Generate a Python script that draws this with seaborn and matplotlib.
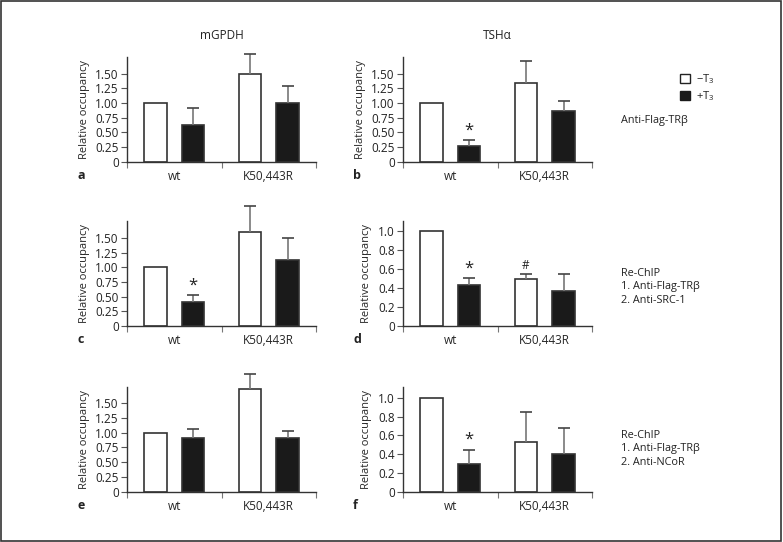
import numpy as np
import pandas as pd
import seaborn as sb
import matplotlib.pyplot as plt
from matplotlib.patches import Patch, Rectangle

# data: bar order is wt(-T3), wt(+T3), K50,443R(-T3), K50,443R(+T3)
groups = ['wt', 'K50,443R']
treat = ['-T3', '+T3']

a_mean = [1.00, 0.63, 1.50, 1.00]
a_sem = [0, 0.29, 0.34, 0.29]
b_mean = [1.00, 0.27, 1.35, 0.86]
b_sem = [0, 0.10, 0.36, 0.18]
c_mean = [1.00, 0.40, 1.61, 1.13]
c_sem = [0, 0.12, 0.44, 0.37]
d_mean = [1.00, 0.43, 0.49, 0.365]
d_sem = [0, 0.075, 0.06, 0.185]
e_mean = [0.99, 0.905, 1.74, 0.905]
e_sem = [0, 0.165, 0.26, 0.12]
f_mean = [1.00, 0.30, 0.525, 0.40]
f_sem = [0, 0.15, 0.325, 0.275]

b_marks = ['', '*', '', '']
c_marks = ['', '*', '', '']
d_marks = ['', '*', '#', '']
f_marks = ['', '*', '', '']
no_marks = ['', '', '', '']

ticks_15 = [0, 0.25, 0.5, 0.75, 1.0, 1.25, 1.5]
labels_15 = ['0', '0.25', '0.50', '0.75', '1.00', '1.25', '1.50']
ticks_10 = [0, 0.2, 0.4, 0.6, 0.8, 1.0]
labels_10 = ['0', '0.2', '0.4', '0.6', '0.8', '1.0']

sb.set_style('white')
plt.rcParams['font.family'] = ['Open Sans', 'DejaVu Sans']
plt.rcParams['mathtext.default'] = 'regular'
plt.rcParams['font.size'] = 8
plt.rcParams['text.color'] = '#222222'

fig = plt.figure(figsize=(7.83, 5.42), dpi=100)

W, H = 783, 542
cols = [127, 403]
rows = [(57.3, 161.7), (220.7, 325.7), (386.7, 491.7)]
aw = 189

panels = [
    (a_mean, a_sem, no_marks, 0, 0, 'a', 1.78, ticks_15, labels_15),
    (b_mean, b_sem, b_marks, 0, 1, 'b', 1.78, ticks_15, labels_15),
    (c_mean, c_sem, c_marks, 1, 0, 'c', 1.80, ticks_15, labels_15),
    (d_mean, d_sem, d_marks, 1, 1, 'd', 1.11, ticks_10, labels_10),
    (e_mean, e_sem, no_marks, 2, 0, 'e', 1.78, ticks_15, labels_15),
    (f_mean, f_sem, f_marks, 2, 1, 'f', 1.12, ticks_10, labels_10),
]

edge = '#333333'
for mean, sem, marks, r, c, letter, ytop, yt, yl in panels:
    top, bot = rows[r]
    ax = fig.add_axes([cols[c] / W, 1 - bot / H, aw / W, (bot - top) / H])
    df = pd.DataFrame({'group': [groups[0], groups[0], groups[1], groups[1]],
                       'treat': treat * 2,
                       'value': mean})
    sb.barplot(data=df, x='group', y='value', hue='treat', order=groups,
               hue_order=treat, palette=['white', '#1a1a1a'], width=0.8,
               gap=0.4, edgecolor=edge, linewidth=1.2, legend=False, ax=ax,
               errorbar=None)
    bars = sorted(ax.patches, key=lambda p: p.get_x())
    for p, m, s, mk in zip(bars, mean, sem, marks):
        xc = p.get_x() + p.get_width() / 2
        if s > 0:
            ax.vlines(xc, m, m + s, color='#777777', lw=1.2, clip_on=False, zorder=1)
            ax.hlines(m + s, xc - 0.065, xc + 0.065, color='#444444', lw=1.2,
                      clip_on=False, zorder=1)
        if mk:
            ax.annotate(mk, (xc, m + s), xytext=(0, 1), textcoords='offset points',
                        ha='center', va='bottom',
                        fontsize=12 if mk == '*' else 8.5)
    ax.set_xlim(-0.5, 1.5)
    ax.set_ylim(0, ytop)
    for sp in ['top', 'right']:
        ax.spines[sp].set_visible(False)
    for sp in ['left', 'bottom']:
        ax.spines[sp].set_color(edge)
        ax.spines[sp].set_linewidth(1.0)
    ax.set_yticks(yt)
    ax.set_yticklabels(yl, fontsize=8.5)
    ax.set_xticks([-0.5, 0.5, 1.5])
    ax.set_xticklabels(['', '', ''])
    ax.set_xticks([0, 1], minor=True)
    ax.set_xticklabels(groups, minor=True, fontsize=8.5)
    ax.tick_params(axis='x', which='major', direction='out', length=4,
                   width=0.8, color='#777777', bottom=True)
    ax.tick_params(axis='x', which='minor', length=0, pad=6)
    ax.tick_params(axis='y', direction='out', length=4, width=0.8,
                   color='#555555', left=True, pad=2, labelcolor='#222222')
    ax.set_xlabel('')
    ax.set_ylabel('Relative occupancy', fontsize=8, labelpad=4)
    fig.text((cols[c] - 50) / W, 1 - (bot + 14) / H, letter, fontsize=9,
             fontweight='bold', ha='left', va='center')
    if r == 0:
        ax.set_title('mGPDH' if c == 0 else 'TSH\u03b1', fontsize=8.5, pad=13)

leg = fig.legend(handles=[Patch(facecolor='white', edgecolor='#222222', lw=1),
                          Patch(facecolor='#1a1a1a', edgecolor='#1a1a1a', lw=1)],
                 labels=['\u2212T$_3$', '+T$_3$'], loc='upper left',
                 bbox_to_anchor=(670 / W, 1 - 62 / H), frameon=False,
                 handlelength=0.9, handleheight=0.9, handletextpad=0.5,
                 labelspacing=0.3, fontsize=8)

fig.text(621 / W, 1 - 120 / H, 'Anti-Flag-TR\u03b2', fontsize=7.8, va='center')
fig.text(621 / W, 1 - 268 / H, 'Re-ChIP\n1. Anti-Flag-TR\u03b2\n2. Anti-SRC-1',
         fontsize=7.8, va='top', linespacing=1.3)
fig.text(621 / W, 1 - 430 / H, 'Re-ChIP\n1. Anti-Flag-TR\u03b2\n2. Anti-NCoR',
         fontsize=7.8, va='top', linespacing=1.3)

fig.patches.append(Rectangle((0.001, 0.002), 0.997, 0.996, transform=fig.transFigure,
                             fill=False, edgecolor='#333333', lw=1.2))

plt.savefig('out.png', dpi=100)
